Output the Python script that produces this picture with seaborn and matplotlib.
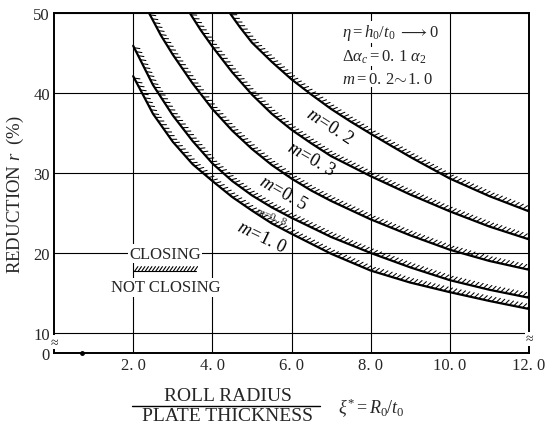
import matplotlib
matplotlib.use('Agg')
import matplotlib.pyplot as plt
import matplotlib.patheffects as pe
from matplotlib.lines import Line2D
import seaborn as sns
import pandas as pd

# roll radius / plate thickness vs reduction r (%)
m02_x = [4.44, 4.7, 5.0, 5.5, 6.0, 6.5, 7.0, 7.5, 8.0, 9.0, 10.0, 11.0, 12.0]
m02_r = [50.0, 48.2, 46.3, 43.9, 41.7, 39.8, 38.0, 36.4, 34.9, 32.0, 29.3, 27.1, 25.2]

m03_x = [3.43, 3.7, 4.0, 4.5, 5.0, 5.5, 6.0, 6.5, 7.0, 8.0, 9.0, 10.0, 11.0, 12.0]
m03_r = [50.0, 47.9, 45.8, 42.6, 39.8, 37.4, 35.4, 33.7, 32.1, 29.6, 27.3, 25.2, 23.3, 21.7]

m05_x = [2.40, 2.7, 3.0, 3.5, 4.0, 4.5, 5.0, 5.5, 6.0, 6.5, 7.0, 8.0, 9.0, 10.0, 11.0, 12.0]
m05_r = [50.0, 47.2, 44.8, 41.2, 38.0, 35.3, 33.0, 31.0, 29.3, 27.8, 26.5, 24.2, 22.2, 20.4, 19.0, 17.9]

m08_x = [2.0, 2.5, 3.0, 3.5, 4.0, 4.5, 5.0, 5.5, 6.0, 7.0, 8.0, 9.0, 10.0, 11.0, 12.0]
m08_r = [45.9, 41.0, 37.2, 34.0, 31.2, 29.0, 27.2, 25.7, 24.4, 22.0, 20.0, 18.2, 16.6, 15.4, 14.4]

m10_x = [2.0, 2.5, 3.0, 3.5, 4.0, 4.5, 5.0, 5.5, 6.0, 7.0, 8.0, 9.0, 10.0, 11.0, 12.0]
m10_r = [42.1, 37.4, 33.9, 31.1, 29.0, 27.0, 25.3, 23.7, 22.4, 19.9, 17.8, 16.3, 15.1, 14.0, 13.0]

x_ticks = [2.0, 4.0, 6.0, 8.0, 10.0, 12.0]
x_labels = ['2. 0', '4. 0', '6. 0', '8. 0', '10. 0', '12. 0']
y_ticks = [7.5, 10, 20, 30, 40, 50]   # axis is broken below 10, "0" sits at 7.5
y_labels = ['0', '10', '20', '30', '40', '50']

frames = []
for m, xs, rs in [('0.2', m02_x, m02_r), ('0.3', m03_x, m03_r), ('0.5', m05_x, m05_r),
                  ('0.8', m08_x, m08_r), ('1.0', m10_x, m10_r)]:
    frames.append(pd.DataFrame({'xi': xs, 'r': rs, 'm': m}))
df = pd.concat(frames, ignore_index=True)

sns.set_style('white')
plt.rcParams['font.family'] = ['Liberation Serif', 'DejaVu Serif']
plt.rcParams['mathtext.fontset'] = 'custom'
plt.rcParams['mathtext.rm'] = 'Liberation Serif'
plt.rcParams['mathtext.it'] = 'Liberation Serif:italic'

fig = plt.figure(figsize=(5.45, 4.27), dpi=100)
ax = fig.add_axes([0.0991, 0.1710, 0.8716, 0.7963])

hatch = [pe.withTickedStroke(spacing=3.2, angle=55, length=1.3, linewidth=0.75)]
for m in ['0.2', '0.3', '0.5', '0.8', '1.0']:
    sns.lineplot(data=df[df['m'] == m], x='xi', y='r', ax=ax, color='black', lw=1.6,
                 estimator=None, sort=False, path_effects=hatch, zorder=3)

ax.set_xlim(0, 12)
ax.set_ylim(7.5, 50)
ax.set_xticks(x_ticks)
ax.set_xticklabels(x_labels, fontsize=12)
ax.set_yticks(y_ticks)
ax.set_yticklabels(y_labels, fontsize=12)
ax.tick_params(length=0, pad=3)
ax.set_xlabel('')
ax.set_ylabel('')
ax.grid(True, color='black', lw=0.8)
ax.set_axisbelow(True)
for s in ax.spines.values():
    s.set_color('black')
    s.set_linewidth(1.4)

# curve labels
lab_kw = dict(ha='center', va='center', fontsize=13, color='black', zorder=4)
ax.text(6.97, 35.9, r'$m\!=\!0.\,2$', rotation=-33, **lab_kw)
ax.text(6.50, 31.8, r'$m\!=\!0.\,3$', rotation=-30, **lab_kw)
ax.text(5.79, 27.6, r'$m\!=\!0.\,5$', rotation=-30, **lab_kw)
ax.text(5.50, 24.7, r'$m\!=\!0.\,8$', rotation=-22, ha='center', va='center', fontsize=8, zorder=4)
ax.text(5.24, 22.0, r'$m\!=\!1.\,0$', rotation=-26, **lab_kw)

# condition box
box_kw = dict(ha='left', va='center', fontsize=12, zorder=4,
              bbox=dict(facecolor='white', edgecolor='none', pad=0.5))
ax.text(7.27, 47.6, r'$\eta=h_0/t_0\ \longrightarrow 0$', **box_kw)
ax.text(7.27, 44.6, r'$\mathit{\Delta}\alpha_c=0.\,1\ \alpha_2$', **box_kw)
ax.text(7.27, 41.8, r'$m=0.\,2\!\sim\!1.\,0$', **box_kw)

# closing / not closing key
key_kw = dict(ha='center', va='center', fontsize=12, zorder=4,
              bbox=dict(facecolor='white', edgecolor='none', pad=1.0))
ax.text(2.80, 19.9, 'CLOSING', **key_kw)
ax.text(2.83, 15.7, 'NOT CLOSING', **key_kw)
ax.plot([2.0, 3.59], [17.75, 17.75], color='black', lw=0.8, zorder=5,
        path_effects=[pe.withTickedStroke(spacing=2.4, angle=55, length=1.6, linewidth=0.8)])

# axis break marks
ax.text(0, 8.85, '≈', ha='center', va='center', fontsize=10, zorder=6,
        bbox=dict(facecolor='white', edgecolor='none', pad=0.2))
ax.text(12, 9.25, '≈', ha='center', va='center', fontsize=10, zorder=6,
        bbox=dict(facecolor='white', edgecolor='none', pad=0.2))
ax.plot([0.71], [7.5], marker='o', ms=2.5, color='black', clip_on=False, zorder=6)

# axis titles
fig.text(15 / 545, 1 - 195 / 427, r'REDUCTION $r$  (%)', rotation=90,
         ha='center', va='center', fontsize=13.5)
fig.text(228 / 545, 1 - 397 / 427, 'ROLL RADIUS', ha='center', va='center', fontsize=14)
fig.text(227 / 545, 1 - 417 / 427, 'PLATE THICKNESS', ha='center', va='center', fontsize=14)
fig.add_artist(Line2D([132 / 545, 320 / 545], [1 - 407 / 427] * 2, color='black', lw=1.0))
fig.text(338 / 545, 1 - 408 / 427, r'$\xi^{*}=R_0/t_0$', ha='left', va='center', fontsize=13)

plt.savefig('out.png', dpi=100)
plt.close()
